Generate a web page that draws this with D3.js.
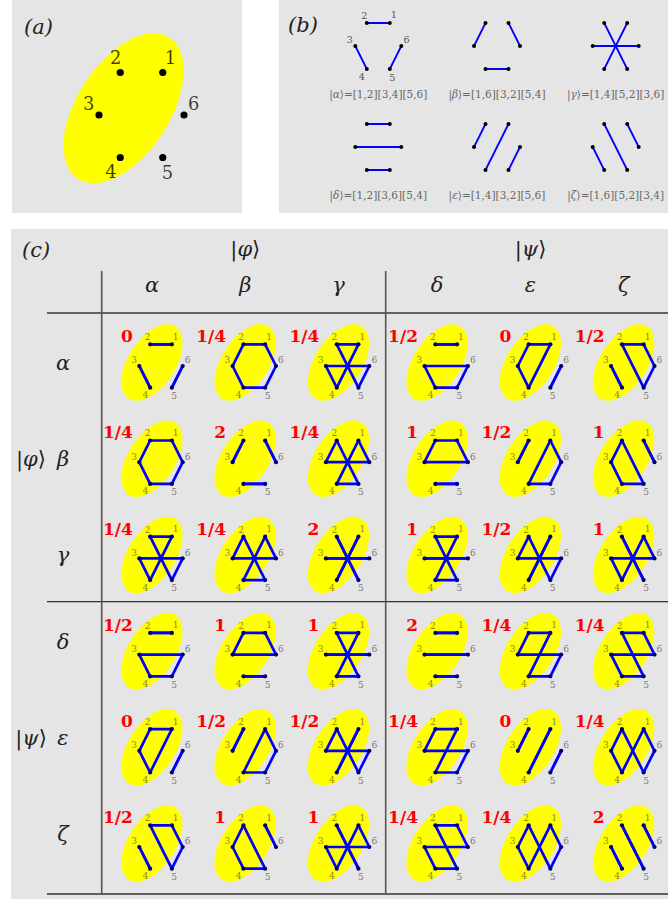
<!DOCTYPE html>
<html>
<head>
    <meta charset="utf-8">
    <title>Pairing overlaps</title>
    <script src="https://d3js.org/d3.v7.min.js"></script>
    <style>
        body { margin: 0; background: #fff; }
        svg text { font-family: "DejaVu Serif", "Liberation Serif", serif; }
        .panel { fill: #e5e5e5; }
        .math { font-style: italic; }
        .num { fill: #ff0000; font-weight: bold; }
        .rule { stroke: #333; stroke-width: 1.3; }
        .vrule { stroke: #555; stroke-width: 1.6; }
    </style>
</head>
<body>
    <svg width="668" height="899"></svg>
    <script>
        // states and their pairings of the six sites
        const stateNames = ["α", "β", "γ", "δ", "ε", "ζ"];
        const pairings = [
            [[1, 2], [3, 4], [5, 6]],
            [[1, 6], [3, 2], [5, 4]],
            [[1, 4], [5, 2], [3, 6]],
            [[1, 2], [3, 6], [5, 4]],
            [[1, 4], [3, 2], [5, 6]],
            [[1, 6], [5, 2], [3, 4]]
        ];
        const sites = [1, 2, 3, 4, 5, 6];
        const groupNames = ["φ", "ψ"];
        // overlap values, rows x columns
        const overlaps = [
            ["0",   "1/4", "1/4", "1/2", "0",   "1/2"],
            ["1/4", "2",   "1/4", "1",   "1/2", "1"],
            ["1/4", "1/4", "2",   "1",   "1/2", "1"],
            ["1/2", "1",   "1",   "2",   "1/4", "1/4"],
            ["0",   "1/2", "1/2", "1/4", "0",   "1/4"],
            ["1/2", "1",   "1",   "1/4", "1/4", "2"]
        ];

        const svg = d3.select("svg");

        // site i sits at angle 60*i on a slightly stretched hexagon
        const unit = id => {
            const a = id * Math.PI / 3;
            return [Math.cos(a), -Math.sin(a) * 1.155];
        };
        const labelOffset = {
            1: [0.18, -0.35], 2: [-0.11, -0.34], 3: [-0.24, -0.27],
            4: [-0.22, 0.34], 5: [0.11, 0.37], 6: [0.23, -0.27]
        };

        function drawGraph(g, cx, cy, h, o) {
            const x = d3.scaleLinear().domain([-1, 1]).range([cx - h, cx + h]);
            const y = d3.scaleLinear().domain([-1, 1]).range([cy - h, cy + h]);
            const pos = id => { const u = unit(id); return [x(u[0]), y(u[1])]; };

            if (o.ellipse) {
                g.append("ellipse")
                    .attr("rx", 1.98 * h).attr("ry", 1.09 * h)
                    .attr("transform", `translate(${x(-0.42)},${y(-0.16)}) rotate(-57)`)
                    .attr("fill", "#ffff00");
            }
            g.selectAll("line.edge")
                .data(o.edges || [])
                .join("line")
                .attr("class", "edge")
                .attr("x1", d => pos(d[0])[0]).attr("y1", d => pos(d[0])[1])
                .attr("x2", d => pos(d[1])[0]).attr("y2", d => pos(d[1])[1])
                .attr("stroke", "#0000ff")
                .attr("stroke-width", o.lw)
                .attr("stroke-linecap", "round");
            g.selectAll("circle.site")
                .data(sites)
                .join("circle")
                .attr("class", "site")
                .attr("cx", d => pos(d)[0]).attr("cy", d => pos(d)[1])
                .attr("r", o.r)
                .attr("fill", o.dot);
            if (o.labels) {
                g.selectAll("text.site")
                    .data(sites)
                    .join("text")
                    .attr("class", "site")
                    .attr("x", d => pos(d)[0] + labelOffset[d][0] * h)
                    .attr("y", d => pos(d)[1] + labelOffset[d][1] * h)
                    .attr("dy", "0.35em")
                    .attr("text-anchor", "middle")
                    .attr("font-size", 0.42 * h)
                    .attr("fill", o.labelFill)
                    .attr("fill-opacity", o.labelOpacity)
                    .text(d => d);
            }
            if (o.value) {
                g.append("text")
                    .attr("class", "num")
                    .attr("x", cx - 1.3 * h)
                    .attr("y", cy - 1.1 * h)
                    .attr("text-anchor", "end")
                    .attr("font-size", 17)
                    .text(o.value);
            }
        }

        // panel backgrounds
        svg.append("rect").attr("class", "panel").attr("x", 12).attr("y", 0).attr("width", 230).attr("height", 213);
        svg.append("rect").attr("class", "panel").attr("x", 279).attr("y", 0).attr("width", 389).attr("height", 213);
        svg.append("rect").attr("class", "panel").attr("x", 11).attr("y", 229).attr("width", 657).attr("height", 670);

        const tag = (x, y, s) => svg.append("text").attr("class", "math")
            .attr("x", x).attr("y", y).attr("font-size", 21).attr("fill", "#222").text(s);
        tag(24, 34, "(a)");
        tag(288, 32, "(b)");
        tag(22, 257, "(c)");

        // (a) the six sites
        drawGraph(svg.append("g"), 141.5, 115, 42.5, {
            ellipse: true, edges: [], r: 3.6, dot: "#000",
            labels: true, labelFill: "#000", labelOpacity: 0.75
        });

        // (b) the six pairings
        const bx = d3.scaleLinear().domain([0, 1]).range([378.3, 497]);
        const by = d3.scaleLinear().domain([0, 1]).range([46, 147]);
        pairings.forEach((p, i) => {
            const cx = bx(i % 3), cy = by(Math.floor(i / 3));
            drawGraph(svg.append("g"), cx, cy, 23, {
                edges: p, lw: 1.8, r: 2, dot: "#000",
                labels: i === 0, labelFill: "#555", labelOpacity: 1
            });
            const t = svg.append("text")
                .attr("x", cx).attr("y", cy + 52)
                .attr("text-anchor", "middle")
                .attr("font-size", 10.5)
                .attr("fill", "#666");
            t.append("tspan").text("|");
            t.append("tspan").attr("class", "math").text(stateNames[i]);
            t.append("tspan").text("⟩=" + p.map(e => `[${e[0]},${e[1]}]`).join(""));
        });

        // (c) table of overlaps
        const step = 93.3, groupGap = 5.3;
        const colX = d3.scaleLinear().domain([0, 1]).range([161, 161 + step]);
        const cellX = j => colX(j) + (j >= 3 ? groupGap : 0);
        const rowY = d3.scaleLinear().domain([0, 1]).range([366, 462.2]);
        // row titles of the lower block sit a little higher
        const rowBase = i => rowY(i) + (i >= 3 ? -6 : 4);

        overlaps.forEach((row, i) => {
            row.forEach((v, j) => {
                drawGraph(svg.append("g"), cellX(j), rowY(i), 21.7, {
                    ellipse: true, edges: pairings[i].concat(pairings[j]),
                    lw: 2.7, r: 2.1, dot: "#00006a",
                    labels: true, labelFill: "#000", labelOpacity: 0.5,
                    value: v
                });
            });
        });

        // headers
        svg.selectAll("text.colhead")
            .data(stateNames)
            .join("text")
            .attr("class", "colhead math")
            .attr("x", (d, j) => cellX(j) - 9)
            .attr("y", 292)
            .attr("text-anchor", "middle")
            .attr("font-size", 21)
            .attr("fill", "#222")
            .text(d => d);
        svg.selectAll("text.rowhead")
            .data(stateNames)
            .join("text")
            .attr("class", "rowhead math")
            .attr("x", 63)
            .attr("y", (d, i) => rowBase(i))
            .attr("text-anchor", "middle")
            .attr("font-size", 21)
            .attr("fill", "#222")
            .text(d => d);

        const ket = (sel, s) => {
            sel.append("tspan").text("|");
            sel.append("tspan").attr("class", "math").text(s);
            sel.append("tspan").text("⟩");
        };
        groupNames.forEach((s, k) => {
            const top = svg.append("text")
                .attr("x", cellX(3 * k + 1) - 9).attr("y", 256)
                .attr("text-anchor", "middle").attr("font-size", 21).attr("fill", "#222");
            ket(top, s);
            const side = svg.append("text")
                .attr("x", 31).attr("y", rowBase(3 * k + 1))
                .attr("text-anchor", "middle").attr("font-size", 21).attr("fill", "#222");
            ket(side, s);
        });

        // rules
        [313, 601.7, 894].forEach(yv => {
            svg.append("line").attr("class", "rule")
                .attr("x1", 47).attr("x2", 668).attr("y1", yv).attr("y2", yv);
        });
        [101.7, 385.7].forEach(xv => {
            svg.append("line").attr("class", "vrule")
                .attr("x1", xv).attr("x2", xv).attr("y1", 271).attr("y2", 894);
        });
    </script>
</body>
</html>
